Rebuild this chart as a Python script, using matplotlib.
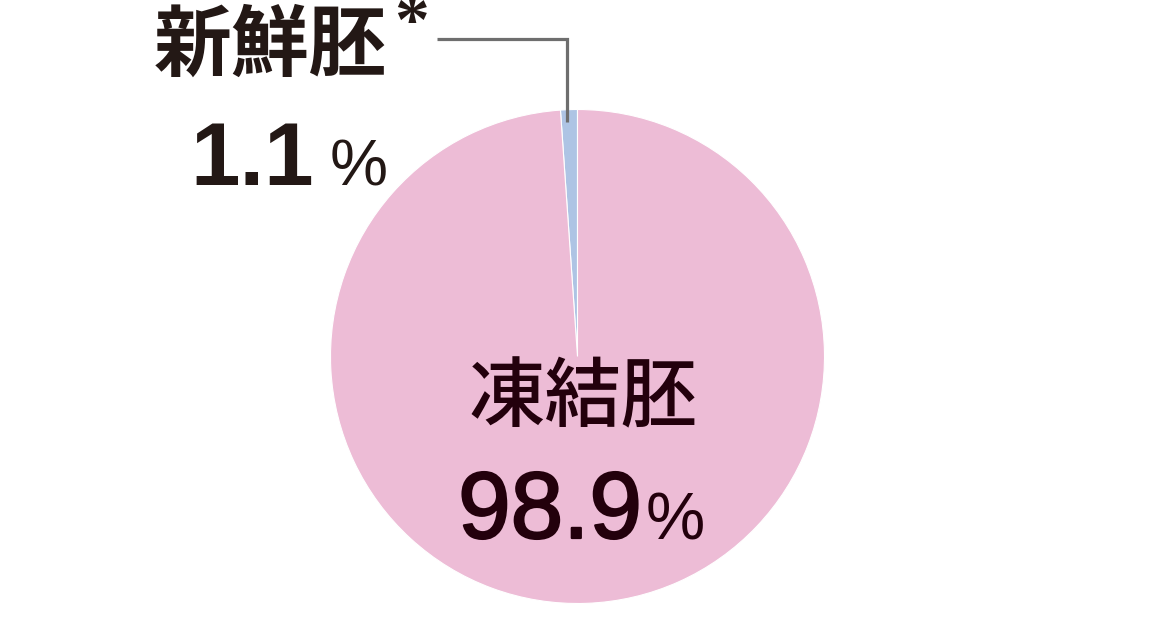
import matplotlib
matplotlib.use("Agg")
import matplotlib.pyplot as plt
import matplotlib.patheffects as pe

# ---- data ----
labels = ["新鮮胚", "凍結胚"]
values = [1.1, 98.9]
colors = ["#AEC4E4", "#EDBCD6"]

W, H = 1154, 620
fig = plt.figure(figsize=(W / 100, H / 100), dpi=100)
ax = fig.add_axes([0, 0, 1, 1])

cx, cy, r = 577.5, H - 356.5, 247
ax.pie(values, colors=colors, startangle=90, counterclock=True,
       center=(cx, cy), radius=r,
       wedgeprops=dict(edgecolor="white", linewidth=0.8))
ax.set_xlim(0, W)
ax.set_ylim(0, H)
ax.set_aspect("equal")
ax.axis("off")

def Y(y):
    return H - y

dark = "#231815"
maroon = "#23000C"
cjk = ["Noto Sans CJK JP", "DejaVu Sans"]

# leader line
ax.plot([437, 567, 567], [Y(39), Y(39), Y(122)], color="#6E6E6E", lw=2.3,
        solid_joinstyle="miter", solid_capstyle="butt")

# fresh embryo label
ax.text(154, Y(70), labels[0], fontsize=56, fontweight="bold", family=cjk,
        color=dark, ha="left", va="baseline")
ax.text(394, Y(43), "*", fontsize=50, fontweight="bold", family=["Liberation Serif"],
        color=dark, ha="left", va="baseline")
ax.text(314, Y(185), f"{values[0]}", fontsize=64, fontweight="bold",
        family=["Liberation Sans"], color=dark, ha="right", va="baseline")
ax.text(330, Y(185), "%", fontsize=47, fontweight="normal",
        family=["Liberation Sans"], color=dark, ha="left", va="baseline")

# frozen embryo label
ax.text(468, Y(421), labels[1], fontsize=55, fontweight="medium", family=cjk,
        color=maroon, ha="left", va="baseline")
ax.text(642, Y(538), f"{values[1]}", fontsize=68, fontweight="normal",
        family=["Liberation Sans"], color=maroon, ha="right", va="baseline",
        path_effects=[pe.withStroke(linewidth=1.6, foreground=maroon)])
ax.text(646, Y(539), "%", fontsize=48, fontweight="normal",
        family=["Liberation Sans"], color=maroon, ha="left", va="baseline")

fig.savefig("out.png", dpi=100, facecolor="white")
